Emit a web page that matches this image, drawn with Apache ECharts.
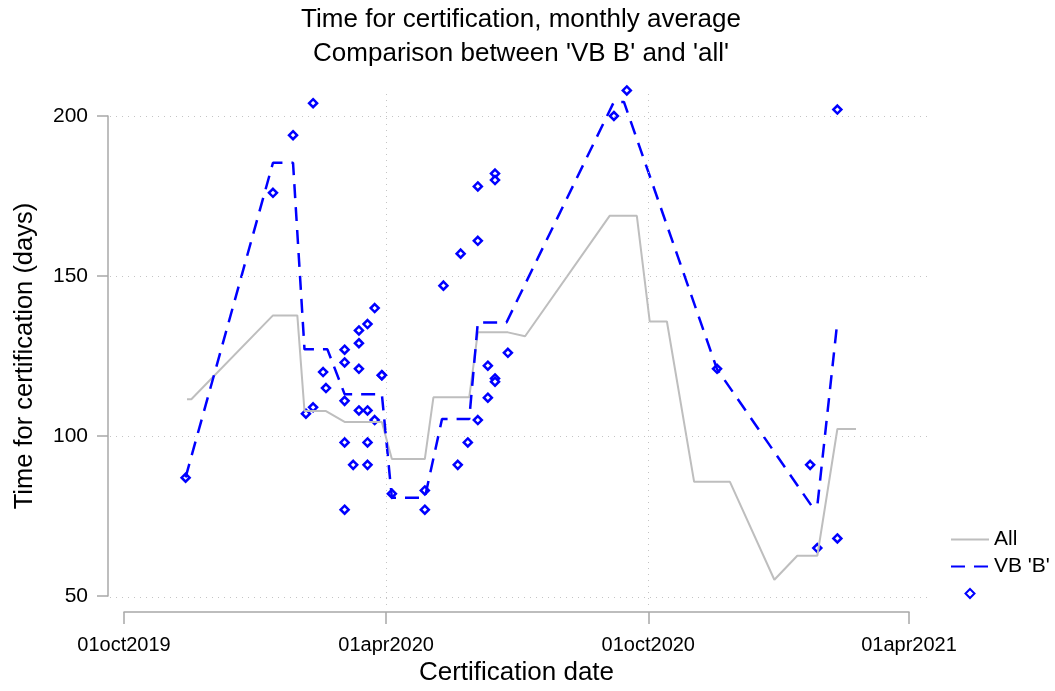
<!DOCTYPE html>
<html lang="en">
<head>
<meta charset="UTF-8">
<title>Time for certification</title>
<script src="https://cdn.jsdelivr.net/npm/echarts@6.0.0/dist/echarts.min.js"></script>
</head>
<body style="margin:0;background:#fff">
<div id="main" style="width:1055px;height:691px;"></div>
<script>
// monthly average, all applications
var allDates = ['2019-11-14','2019-11-17','2020-01-13','2020-01-30','2020-02-04','2020-02-19','2020-03-03','2020-03-29',
    '2020-04-05','2020-04-28','2020-05-04','2020-05-29','2020-06-04','2020-06-25','2020-07-07','2020-09-04','2020-09-23',
    '2020-10-02','2020-10-14','2020-11-02','2020-11-27','2020-12-28','2021-01-13','2021-01-27','2021-02-10','2021-02-23'];
var allValues = [111.5,111.5,137.7,137.7,107.8,107.8,104.4,104.4,92.8,92.8,112.1,112.1,132.4,132.4,131.2,168.8,168.8,
    135.8,135.8,85.7,85.7,55.1,62.6,62.6,102.2,102.2];

// monthly average, VB 'B'
var vbDates = ['2019-11-13','2020-01-13','2020-01-27','2020-02-04','2020-02-20','2020-03-03','2020-03-29','2020-04-05',
    '2020-04-28','2020-05-10','2020-05-29','2020-06-04','2020-06-24','2020-09-07','2020-09-14','2020-11-18','2021-01-23',
    '2021-01-27','2021-02-10'];
var vbValues = [87.1,185.4,185.4,127.1,127.1,113.1,113.1,80.7,80.7,105.3,105.3,135.5,135.5,204.4,204.4,120.9,78.2,78.2,135.8];

// single certifications of VB 'B'
var dotDates = ['2019-11-13','2020-01-13','2020-01-27','2020-02-10','2020-02-05','2020-02-10','2020-02-17','2020-02-19',
    '2020-03-03','2020-03-03','2020-03-03','2020-03-03','2020-03-03','2020-03-09','2020-03-13','2020-03-13','2020-03-13',
    '2020-03-13','2020-03-19','2020-03-19','2020-03-19','2020-03-19','2020-03-24','2020-03-24','2020-03-29','2020-03-29',
    '2020-04-05','2020-04-28','2020-04-28','2020-05-11','2020-05-21','2020-05-23','2020-05-28','2020-06-04','2020-06-04',
    '2020-06-04','2020-06-11','2020-06-11','2020-06-16','2020-06-16','2020-06-16','2020-06-16','2020-06-25','2020-09-07',
    '2020-09-16','2020-11-18','2021-01-22','2021-01-27','2021-02-10','2021-02-10'];
var dotValues = [87,176,194,204,107,109,120,115,127,123,111,98,77,91,133,129,121,108,135,108,98,91,140,105,119,119,
    82,83,77,147,91,157,98,178,161,105,122,112,182,180,118,117,126,200,208,121,91,65,68,202];

var xTicks = ['2019-10-01','2020-04-01','2020-10-01','2021-04-01'];
var yTicks = [50,100,150,200];

var monthNames = ['jan','feb','mar','apr','may','jun','jul','aug','sep','oct','nov','dec'];

function toTime(s) {
    var p = s.split('-');
    return Date.UTC(+p[0], +p[1] - 1, +p[2]);
}
function fmtDate(v) {
    var d = new Date(v);
    var day = d.getUTCDate();
    return (day < 10 ? '0' + day : '' + day) + monthNames[d.getUTCMonth()] + d.getUTCFullYear();
}
function pairs(xs, ys) {
    return xs.map(function (x, i) { return [toTime(x), ys[i]]; });
}

var xTickValues = xTicks.map(toTime);
var x0 = xTickValues[0], x1 = xTickValues[xTickValues.length - 1];
var y0 = yTicks[0], y1 = yTicks[yTicks.length - 1];

// the dotted grid of the plot region reaches a bit past the axis ranges
var plotW = 785, plotH = 481;
var kx = (x1 - x0) / plotW, ky = (y1 - y0) / plotH;

var gridMarks = yTicks.map(function (v) { return { yAxis: v }; })
    .concat(xTickValues.slice(1, 3).map(function (v) { return { xAxis: v }; }));

var font = 'Liberation Sans, Arial, sans-serif';
var gridLine = { color: '#c4c4c4', type: [1, 5], width: 1 };
var axisGrey = { color: '#a8a8a8', width: 1.5 };
var chart = echarts.init(document.getElementById('main'));

var option = {
    animation: false,
    backgroundColor: '#fff',
    textStyle: { fontFamily: font },
    title: {
        text: "Time for certification, monthly average\nComparison between 'VB B' and 'all'",
        left: 516, top: -2, textAlign: 'center',
        textStyle: { fontSize: 26, fontWeight: 'normal', color: '#000', lineHeight: 34, fontFamily: font }
    },
    grid: [
        { left: 124, right: 146, top: 116, bottom: 94 },
        { left: 110, right: 125, top: 90, bottom: 86 }
    ],
    legend: {
        orient: 'vertical', left: 945, top: 524,
        itemWidth: 38, itemHeight: 9, itemGap: 6, symbolKeepAspect: true,
        textStyle: { fontSize: 21, color: '#000', fontFamily: font },
        data: [
            { name: 'All', itemStyle: { opacity: 0 } },
            { name: "VB 'B'", itemStyle: { opacity: 0 } },
            { name: ' ', icon: 'path://M5,0L10,5L5,10L0,5Z' }
        ]
    },
    xAxis: [
        {
            type: 'value', gridIndex: 0,
            min: x0, max: x1,
            offset: 16,
            name: 'Certification date', nameLocation: 'middle', nameGap: 47,
            nameTextStyle: { fontSize: 26, color: '#000', fontFamily: font },
            axisLine: { show: true, lineStyle: axisGrey },
            axisTick: { show: true, length: 12, customValues: xTickValues, lineStyle: axisGrey },
            axisLabel: { fontSize: 20, color: '#000', margin: 23, customValues: xTickValues, formatter: fmtDate },
            splitLine: { show: false }
        },
        {
            type: 'value', gridIndex: 1, show: false,
            min: x0 - 14 * kx, max: x1 + 21 * kx
        }
    ],
    yAxis: [
        {
            type: 'value', gridIndex: 0, min: y0, max: y1, interval: 50,
            offset: 16,
            name: 'Time for certification (days)', nameLocation: 'middle', nameGap: 70,
            nameTextStyle: { fontSize: 25.5, color: '#000', fontFamily: font },
            axisLine: { show: true, lineStyle: axisGrey },
            axisTick: { show: true, length: 11, lineStyle: axisGrey },
            axisLabel: { fontSize: 21, color: '#000', margin: 20 },
            splitLine: { show: false }
        },
        {
            type: 'value', gridIndex: 1, show: false,
            min: y0 - 8 * ky, max: y1 + 26 * ky
        }
    ],
    series: [
        {
            // dotted reference lines over the whole plot region
            name: 'grid', type: 'line', xAxisIndex: 1, yAxisIndex: 1, data: [], silent: true,
            markLine: {
                silent: true, symbol: ['none', 'none'], animation: false,
                label: { show: false },
                lineStyle: gridLine,
                emphasis: { disabled: true },
                data: gridMarks
            }
        },
        {
            name: 'All', type: 'line', symbol: 'none', clip: false,
            lineStyle: { color: '#bebebe', width: 2 },
            itemStyle: { color: '#bebebe' },
            data: pairs(allDates, allValues)
        },
        {
            name: "VB 'B'", type: 'line', symbol: 'none', clip: false,
            lineStyle: { color: '#0000ff', width: 2.5, type: [14, 9] },
            itemStyle: { color: '#0000ff' },
            data: pairs(vbDates, vbValues)
        },
        {
            name: ' ', type: 'scatter', symbol: 'diamond', symbolSize: 8, clip: false,
            itemStyle: { color: '#fff', borderColor: '#0000ff', borderWidth: 2.5, opacity: 1 },
            data: pairs(dotDates, dotValues)
        }
    ]
};

chart.setOption(option);
</script>
</body>
</html>
